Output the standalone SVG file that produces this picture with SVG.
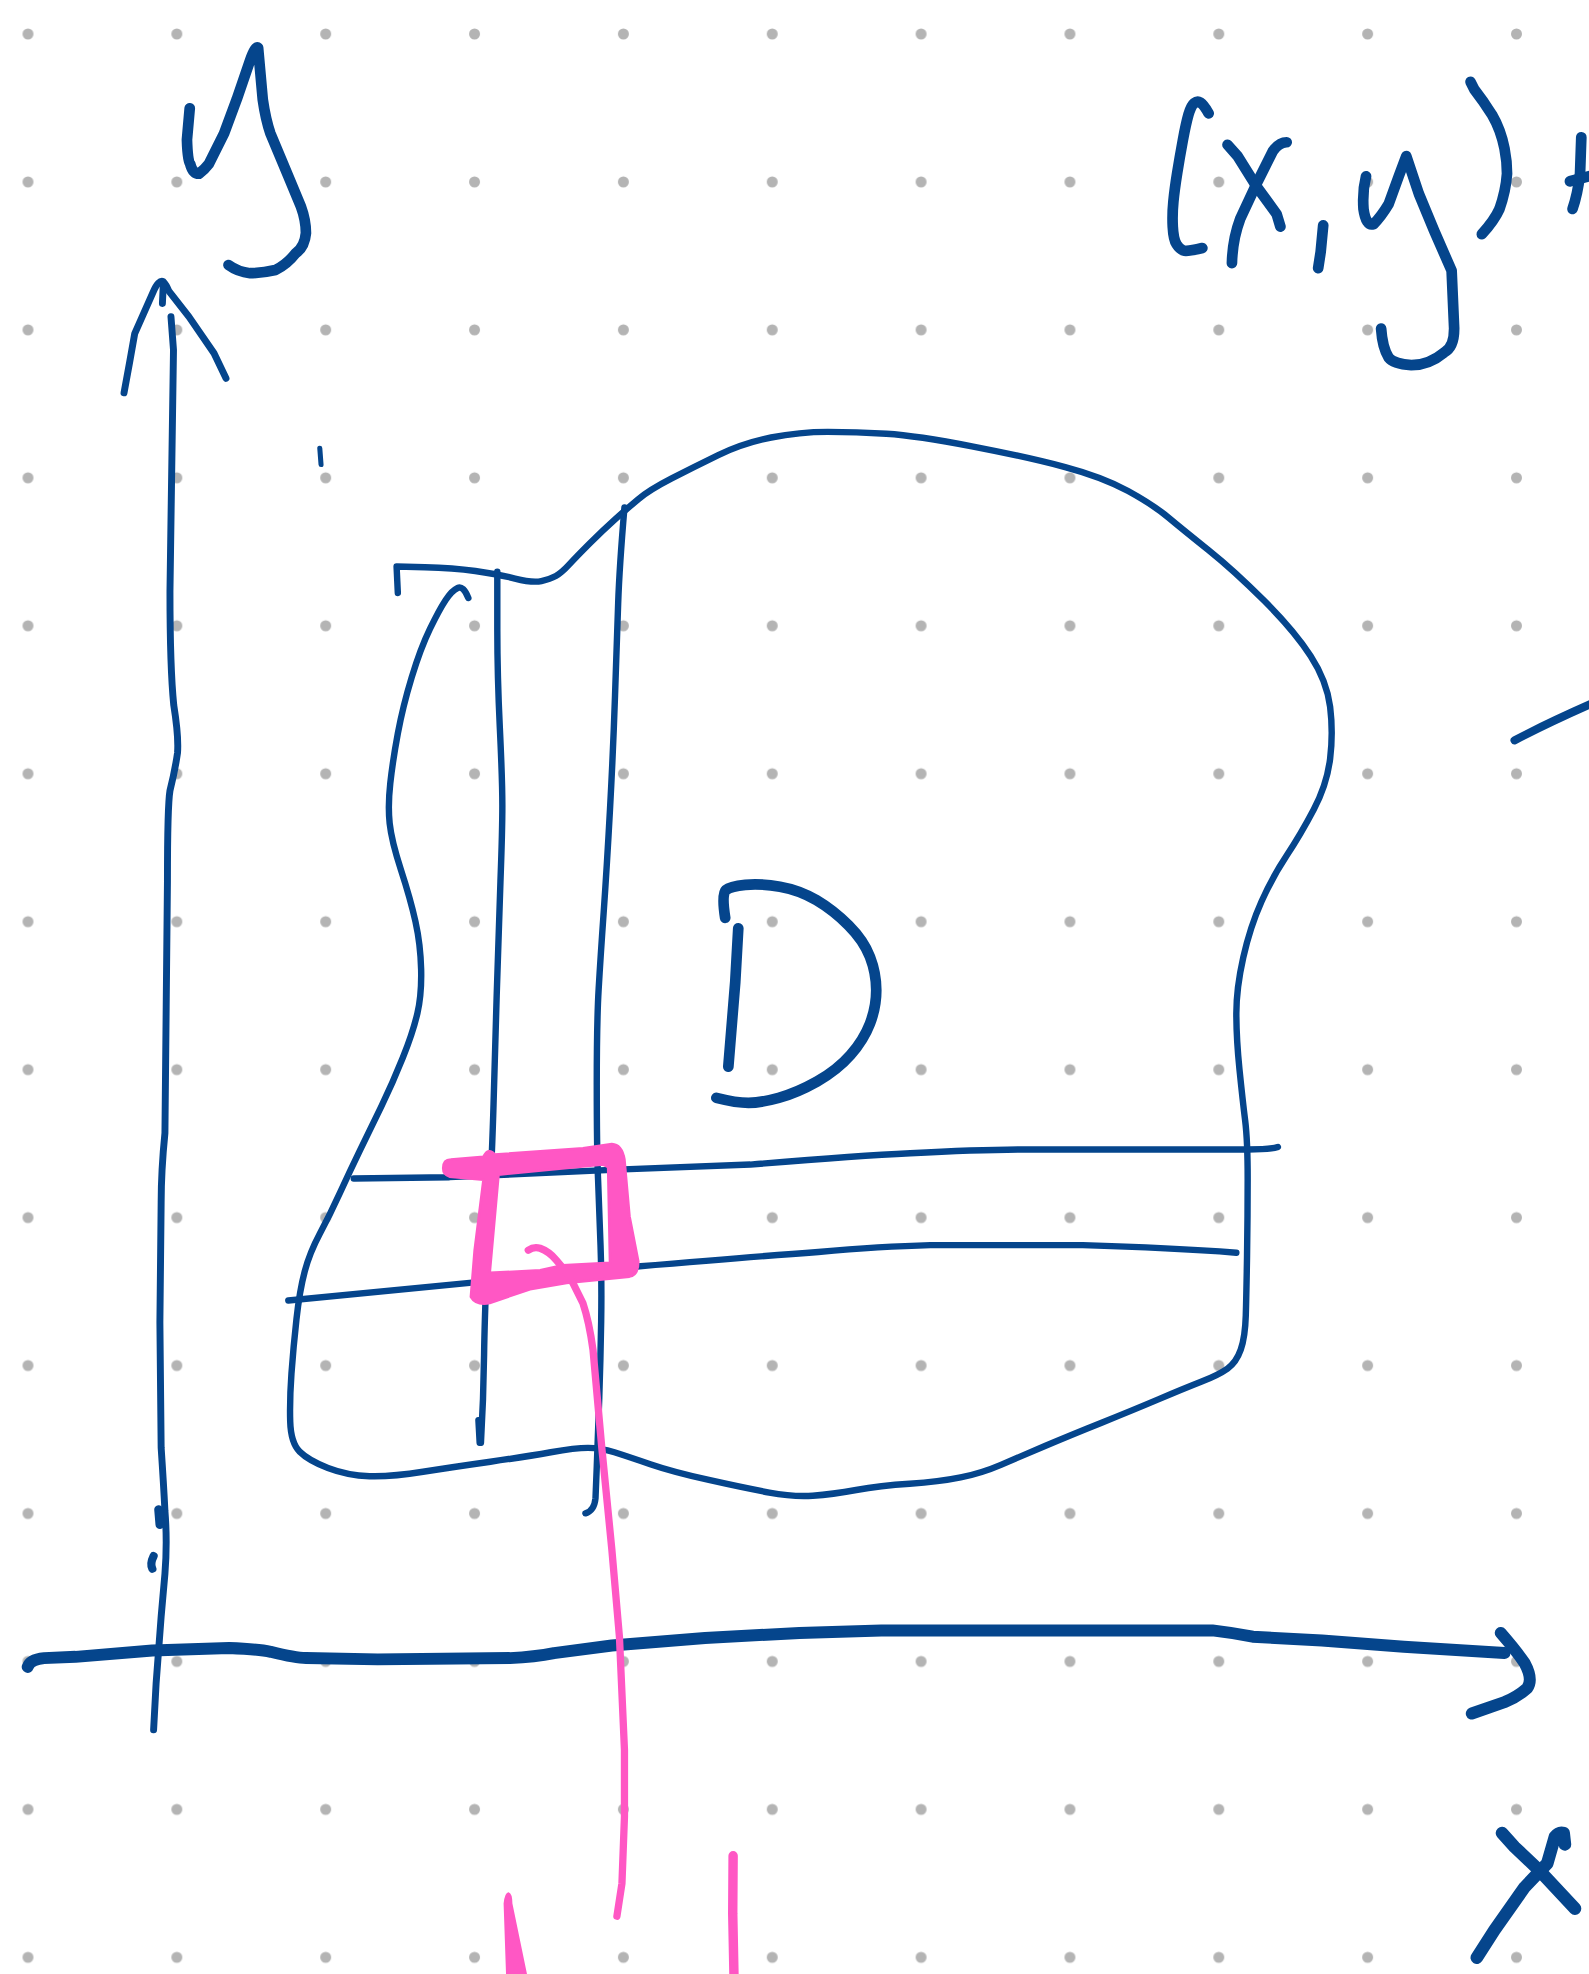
<svg xmlns="http://www.w3.org/2000/svg" width="1589" height="1974" viewBox="0 0 1589 1974">
<defs>
<pattern id="dots" patternUnits="userSpaceOnUse" x="-46.425" y="-39.975" width="148.85" height="147.95">
<circle cx="74.425" cy="73.975" r="5.5" fill="#b4b4b4"/>
</pattern>
<style>
.b{fill:none;stroke:#05458c;stroke-linecap:round;stroke-linejoin:round}
.o{stroke-width:5.1}
.a{stroke-width:5.5}
.ax{stroke-width:9.5}
.t{stroke-width:8.5}
.tx{stroke-width:10}
.p{fill:none;stroke:#ff57c4;stroke-linecap:round;stroke-linejoin:round}
.pf{fill:#ff57c4;stroke:#ff57c4;stroke-width:2;stroke-linejoin:round;fill-rule:evenodd}
</style>
</defs>
<rect width="1589" height="1974" fill="#ffffff"/>
<rect width="1589" height="1974" fill="url(#dots)"/>
<g transform="scale(1.259)">
<g id="y-axis">
<path class="b a" d="M98.5,312 Q103,288 107,265 L121.6,232 Q126,222 129.7,223.7 Q132,226 134,231 L150,251.5 L170,280.6 L179.5,300.5"/>
<path class="b a" d="M129.7,226 L129,241"/>
<path class="b a" d="M135.8,251.5 L137.8,278 L136,400 L135,470 Q135,530 138,560 Q142,585 141,598 Q139,612 135,628 Q133,640 133,700 L132,800 L131,900 Q128,930 128,955 L127,1050 L128,1150 Q130,1180 131,1200 Q133,1225 131,1250 L128,1284 L124,1337 L122,1374"/>
<path class="b" stroke-width="7" d="M126,1199 L127,1211"/>
<path class="b" stroke-width="6.5" d="M122,1236 Q119,1242 121,1246"/>
</g>
<g id="x-axis">
<path class="b ax" d="M22,1324 Q24,1318 35,1317 L60,1316 L121,1311 L182,1309 Q205,1310 215,1312 Q235,1317 243,1317 L300,1318 L405,1317 Q425,1316 440,1313 L486,1307 L560,1301 L635,1297 L700,1295 L963,1295 Q980,1297 995,1300 L1050,1303 L1115,1308 L1195,1313"/>
<path class="b ax" d="M1192,1297 Q1205,1312 1211,1321 Q1218,1334 1213,1341 Q1205,1348 1195,1352 L1169,1361"/>
</g>
<g id="label-y">
<path class="b t" d="M150.7,86 L148.5,111 Q149,128 151,130 Q153,138 158,138 Q163,134 166,130 L178,106 L188,79 L198.6,48 Q203,36 205,38 L208.7,79 Q211,95 214.8,106 L229,140 L239,164 Q243,175 243,185 Q242,196 235,201 Q228,210 218.8,214.5 Q208,217 198.6,217 Q189,216 181.5,210.5"/>
</g>
<g id="label-x">
<path class="b tx" d="M1193,1456 L1203,1467 L1223,1486 L1251,1516"/>
<path class="b tx" d="M1243,1465 L1242,1456 Q1238,1455 1235,1459 L1229,1480 L1211,1499 L1187,1533 L1173,1555"/>
</g>
<g id="label-xy">
<path class="b t" d="M960,90 Q956,83 953.5,81.5 Q951,80 948.5,82 Q946,84 944,91 Q942,98 939.5,111.5 Q937,125 935,137.5 Q933,150 932,160 Q931,170 931.5,180 Q932,190 934.5,194 Q937,198 940,199 Q943,200 955,197"/>
<path class="b t" d="M975,115 L983,124 L998,148 L1014,170 L1017,180"/>
<path class="b t" d="M1022,113 Q1016,113 1011,120 L999,144 L985,174 Q979,190 978.5,209"/>
<path class="b t" d="M1051,179 L1049,200 L1047,213"/>
<path class="b t" d="M1085,140 Q1082,152 1083,166 Q1085,180 1091,178 Q1097,172 1103,162 L1111,140 L1117,124 L1127,154 L1139,183 L1153,215 L1155,261 Q1155,276 1147,280 Q1135,290 1121,290 Q1107,289 1103,284 Q1098,276 1097,261"/>
<path class="b t" d="M1168,65 L1171,71 Q1178,80 1185,91 Q1192,103 1195,118 Q1197,128 1197,138 Q1196,152 1191,166 Q1187,175 1177,186"/>
<path class="b t" d="M1256,109 L1255,138 Q1253,155 1249,166"/>
<path class="b t" d="M1247,144 L1266,139"/>
</g>
<g id="edge-stroke">
<path class="b" stroke-width="6.5" d="M1203,588 Q1230,574 1264,559"/>
</g>
<g id="tick">
<path class="b" stroke-width="4" d="M254,356 L255,369"/>
</g>
<g id="region-D">
<path class="b o" d="M372,475 Q368,465 363.5,467 Q359,469 354,476.5 Q349,484 341.5,499.5 Q334,515 327,538 Q320,561 316,582.5 Q312,604 310,622 Q308,640 309.5,654 Q311,668 318.5,691 Q326,714 330,732 Q334,750 334.5,770 Q335,790 331.5,805 Q328,820 320,840 Q312,860 303,878.5 Q294,897 286,913.5 Q278,930 270,947.5 Q262,965 254,980 Q246,995 242,1010 Q238,1025 235.5,1047.5 Q233,1070 231.5,1091 Q230,1112 230.5,1129 Q231,1146 238,1153 Q245,1160 260.5,1166 Q276,1172 293.5,1172.5 Q311,1173 336,1169 Q361,1165 389.5,1161 Q418,1157 437.5,1153.5 Q457,1150 467,1150 Q477,1150 488,1153.5 Q499,1157 516.5,1163 Q534,1169 563,1175.5 Q592,1182 611,1185.5 Q630,1189 645.5,1188 Q661,1187 680,1183.5 Q699,1180 722.5,1178.5 Q746,1177 763,1173.5 Q780,1170 795,1163.5 Q810,1157 830,1148.5 Q850,1140 875,1130 Q900,1120 920,1111.5 Q940,1103 954,1097.5 Q968,1092 975,1087 Q982,1082 985.5,1072 Q989,1062 989.5,1045 Q990,1028 990.5,997.5 Q991,967 991,936.5 Q991,906 989,890 Q987,874 984.5,849.5 Q982,825 982,805 Q982,785 987.5,760.5 Q993,736 1002,716 Q1011,696 1022,679.5 Q1033,663 1043.5,643 Q1054,623 1056.5,602.5 Q1059,582 1056.5,561.5 Q1054,541 1041,521 Q1028,501 1004,477 Q980,453 960,437 Q940,421 928,411 Q916,401 896,390 Q876,379 846,371 Q816,363 772,354.5 Q728,346 704,344.5 Q680,343 657.5,343 Q635,343 612.5,347.5 Q590,352 570.5,361.5 Q551,371 533.5,380 Q516,389 507,396.5 Q498,404 488.5,412.5 Q479,421 468.5,431.5 Q458,442 452,448.5 Q446,455 441.5,457.5 Q437,460 430,461.5 Q423,463 409,459.5 Q395,456 377.5,453.5 Q360,451 337.5,450.5 L315,450 L316,471"/>
<path class="b o" d="M395,454 L395,500 Q395,536 397,578 Q399,620 399,640 Q399,660 397.5,700 Q396,740 394.5,791 Q393,842 392,877.5 Q391,913 388,976.5 Q385,1040 384.5,1076 Q384,1112 382,1146"/>
<path class="b o" d="M380,1128 L381,1146"/>
<path class="b o" d="M496,403 Q492,450 491,479 Q490,508 488.5,552.5 Q487,597 484.5,643 Q482,689 479.5,724.5 Q477,760 475.5,785.5 Q474,811 474,861.5 Q474,912 475,936 Q476,960 477,989.5 Q478,1019 477.5,1049.5 Q477,1080 476,1110 Q475,1140 474,1165 L473,1190 Q472,1200 465,1202"/>
<path class="b o" d="M281,936 L357,935 L490,929 L596,925 Q680,918 723,916 Q780,913 815,913 L991,913 Q1010,913 1015,911"/>
<path class="b o" d="M229,1033 L373,1019 L506,1006 Q600,998 650,994.5 Q700,990 739,989 L860,989 Q930,991 982,995"/>
</g>
<g id="label-D">
<path class="b t" d="M576,729 Q573,710 576.5,707 Q580,704 592,702.8 Q604,701.6 619.5,704.3 Q635,707 648.5,715 Q662,723 674,735 Q686,747 691,760 Q696,773 696,786.5 Q696,800 691,813 Q686,826 675.5,838 Q665,850 649,859 Q633,868 618.5,872 Q604,876 594.5,876 Q585,876 569,872"/>
<path class="b t" d="M586.4,737.3 L584,780 L578.5,847.3"/>
</g>
<g id="pink-square">
<path class="pf" d="M352,928 Q352,921 358,921 L384,918.7 Q388,911 393,917 L463,912 L486,908.6 Q494,909 496,921 L500,966 L507,1002 Q507,1013 500,1014 L450,1019 L421,1024 L389,1035 Q378,1037 374,1030 L377,993 L384,937 L357,934.6 Q352,933 352,928 Z M396,933 L479,925 L483,927 L484.5,1003 L447,1005 L429,1009 L389,1011 Z"/>
</g>
<g id="pink-lines">
<path class="p" stroke-width="5.8" d="M419.6,993 Q424,990 429,991.5 Q436,994 442,1001 Q450,1010 455,1019 L463,1035 Q468,1050 471,1072 L478,1150 L486,1231 L492,1300 L496,1390 L496,1443 L494,1496 L490,1522"/>
<path fill="#ff57c4" d="M400,1512 Q401,1503 404,1503 Q407,1504 407,1512 L419,1570 L402,1570 Z"/>
<path class="p" stroke-width="7.5" d="M582.3,1474 L582,1520 L583,1570"/>
</g>
</g>
</svg>
